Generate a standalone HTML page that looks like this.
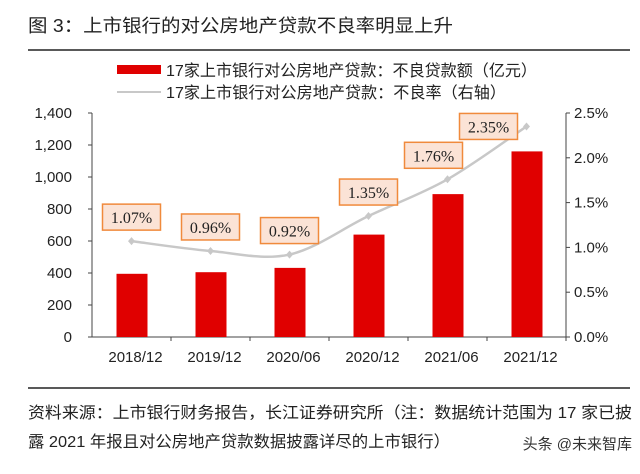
<!DOCTYPE html>
<html><head><meta charset="utf-8"><style>
body{margin:0;background:#fff;}
svg{display:block;font-family:"Liberation Sans","Noto Sans CJK SC",sans-serif;}
</style></head><body>
<svg width="640" height="474" viewBox="0 0 640 474">
<text x="28" y="32" font-size="18" fill="#222" textLength="425" lengthAdjust="spacingAndGlyphs">图 3：上市银行的对公房地产贷款不良率明显上升</text>
<line x1="28" y1="50" x2="630" y2="50" stroke="#222" stroke-width="1.5"/>
<g>
<rect x="117" y="65" width="44" height="9" fill="#e00000"/>
<text x="166" y="76" font-size="16" fill="#222" textLength="371" lengthAdjust="spacingAndGlyphs">17家上市银行对公房地产贷款：不良贷款额（亿元）</text>
<line x1="117" y1="92" x2="161" y2="92" stroke="#c8c8c8" stroke-width="2"/>
<text x="166" y="98" font-size="16" fill="#222" textLength="340" lengthAdjust="spacingAndGlyphs">17家上市银行对公房地产贷款：不良率（右轴）</text>
</g>
<g id="plot"></g>
<line x1="28" y1="388" x2="630" y2="388" stroke="#222" stroke-width="1.5"/>
<text x="28" y="418" font-size="16" fill="#222" textLength="604" lengthAdjust="spacingAndGlyphs">资料来源：上市银行财务报告，长江证券研究所（注：数据统计范围为 17 家已披</text>
<text x="28" y="447" font-size="16" fill="#222" textLength="422" lengthAdjust="spacingAndGlyphs">露 2021 年报且对公房地产贷款数据披露详尽的上市银行）</text>
<text x="632" y="449" font-size="15" fill="#333" text-anchor="end">头条 @未来智库</text>
</svg>
<script>
const categories=["2018/12","2019/12","2020/06","2020/12","2021/06","2021/12"];
const npl=[395,405,432,640,893,1160];
const rate=[1.07,0.96,0.92,1.35,1.76,2.35];
const leftTicks=[0,200,400,600,800,1000,1200,1400];
const rightTicks=[0,0.5,1.0,1.5,2.0,2.5];
const labelShift=[0,0,0,0,-14,-38];
const labelLift=[24,24,24,24,24,0];
const NS="http://www.w3.org/2000/svg";
const g=document.getElementById('plot');
const X0=92,X1=566,Y0=337,Y1=113;
const step=(X1-X0)/categories.length;
const xc=i=>X0+step*(i+0.5);
const yl=v=>Y0-(v/1400)*(Y0-Y1);
const yr=v=>Y0-(v/2.5)*(Y0-Y1);
function mk(t,a,txt){const e=document.createElementNS(NS,t);for(const k in a)e.setAttribute(k,a[k]);if(txt!==undefined)e.textContent=txt;g.appendChild(e);return e;}
let e;
e=mk('line',{x1:X0,y1:Y1,x2:X0,y2:Y0,stroke:'#444'});


e=mk('line',{x1:X1,y1:Y1,x2:X1,y2:Y0,stroke:'#444'});


e=mk('line',{x1:X0,y1:Y0,x2:X1,y2:Y0,stroke:'#444'});


leftTicks.forEach(v=>{
 mk('line',{x1:X0-4,y1:yl(v),x2:X0,y2:yl(v),stroke:'#444'});
 e=mk('text',{x:X0-20,y:yl(v)+5,'font-size':15,'text-anchor':'end',fill:'#222'},v.toLocaleString('en-US'));
 
 
});
rightTicks.forEach(v=>{
 mk('line',{x1:X1,y1:yr(v),x2:X1+4,y2:yr(v),stroke:'#444'});
 e=mk('text',{x:X1+8,y:yr(v)+5,'font-size':15,fill:'#222'},v.toFixed(1)+'%');
 
 
});
categories.forEach((c,i)=>{
 mk('line',{x1:X0+step*(i+1),y1:Y0,x2:X0+step*(i+1),y2:Y0+4,stroke:'#444'});
 e=mk('text',{x:xc(i)+4,y:Y0+25,'font-size':15,'text-anchor':'middle',fill:'#222'},c);
 
 
});
npl.forEach((v,i)=>{
 e=mk('rect',{x:xc(i)-15,y:yl(v),width:31,height:Y0-yl(v),fill:'#e00000'});
 
 
});
const pts=rate.map((v,i)=>[xc(i),yr(v)]);
let d='M'+pts[0][0]+','+pts[0][1];
for(let i=0;i<pts.length-1;i++){
 const p0=pts[Math.max(0,i-1)],p1=pts[i],p2=pts[i+1],p3=pts[Math.min(pts.length-1,i+2)];
 const c1=[p1[0]+(p2[0]-p0[0])/6,p1[1]+(p2[1]-p0[1])/6],c2=[p2[0]-(p3[0]-p1[0])/6,p2[1]-(p3[1]-p1[1])/6];
 d+=` C${c1[0]},${c1[1]} ${c2[0]},${c2[1]} ${p2[0]},${p2[1]}`;
}
e=mk('path',{d:d,fill:'none',stroke:'#c8c8c8','stroke-width':2.5});


pts.forEach((p,i)=>{
 e=mk('path',{d:`M${p[0]},${p[1]-4}L${p[0]+3.5},${p[1]}L${p[0]},${p[1]+4}L${p[0]-3.5},${p[1]}Z`,fill:'#c8c8c8'});
 
 
});
pts.forEach((p,i)=>{
 const cx=p[0]+labelShift[i],cy=p[1]-labelLift[i];
 e=mk('rect',{x:cx-29,y:cy-13,width:58,height:26,fill:'#fbe3d6',stroke:'#f08a3c','stroke-width':1.5});
 
 
 e=mk('text',{x:cx,y:cy+6,'font-size':16,'text-anchor':'middle',fill:'#222','font-family':'Liberation Serif, serif'},rate[i].toFixed(2)+'%');
 
 
});
</script>
</body></html>
